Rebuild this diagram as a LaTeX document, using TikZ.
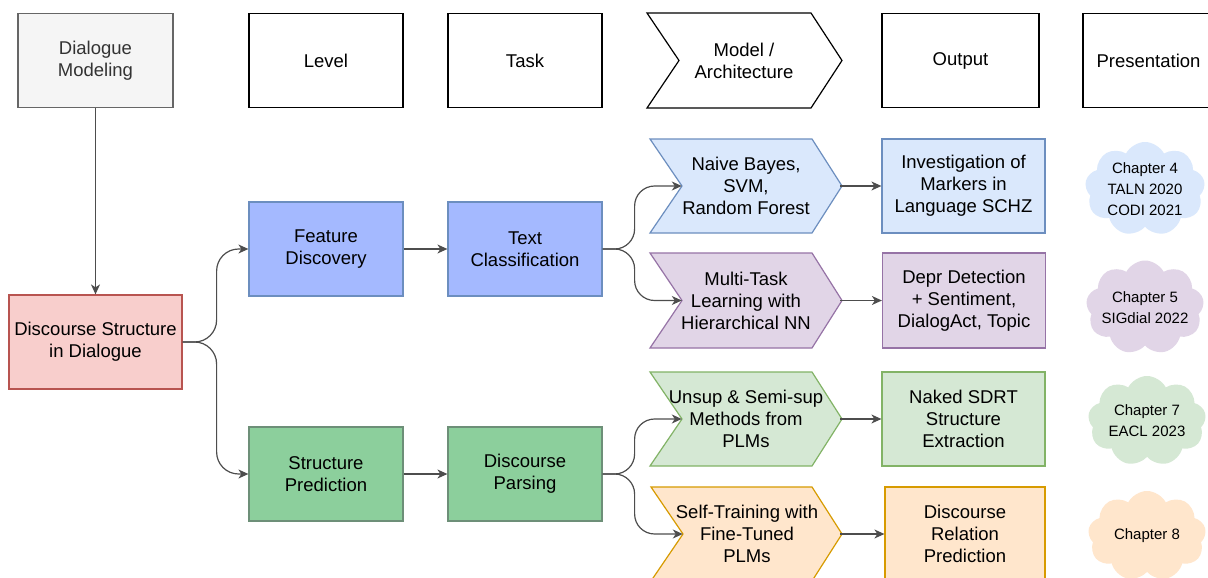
\documentclass[tikz,border=0pt]{standalone}
\usepackage{fontspec}
\setmainfont{Liberation Sans}
\usetikzlibrary{arrows.meta,shapes.symbols,calc}
\definecolor{hdrfill}{HTML}{F5F5F5}
\definecolor{hdrstroke}{HTML}{666666}
\definecolor{hdrtext}{HTML}{333333}
\definecolor{redfill}{HTML}{F8CECC}
\definecolor{redstroke}{HTML}{B85450}
\definecolor{bluefill}{HTML}{DAE8FC}
\definecolor{bluestroke}{HTML}{6C8EBF}
\definecolor{purfill}{HTML}{E1D5E7}
\definecolor{purstroke}{HTML}{9673A6}
\definecolor{grnfill}{HTML}{D5E8D4}
\definecolor{grnstroke}{HTML}{82B366}
\definecolor{orgfill}{HTML}{FFE6CC}
\definecolor{orgstroke}{HTML}{D79B00}
\definecolor{bluetwofill}{HTML}{A4B9FF}
\definecolor{grntwofill}{HTML}{8CCF9C}
\definecolor{grntwostroke}{HTML}{6D8F78}
\definecolor{edgecol}{HTML}{4D4D4D}
\newcommand\myfbig{\fontsize{18.5}{22}\selectfont}
\newcommand\myfsmall{\fontsize{15}{21}\selectfont}
\begin{document}
\begin{tikzpicture}[x=1pt,y=-1pt,
  boxnode/.style={rectangle, draw, line width=1.2pt, inner sep=0pt, align=center,
    minimum width=154pt, minimum height=94pt, font=\myfbig},
  outnode/.style={rectangle, draw, line width=1.2pt, inner sep=0pt, align=center,
    minimum width=163pt, minimum height=94pt, font=\myfbig},
  chevtext/.style={rectangle, draw=none, inner xsep=-30pt, inner ysep=0pt, align=center,
    minimum width=128pt, minimum height=94pt, font=\myfbig},
  chevshape/.style={line width=1.2pt},
  cloudnode/.style={cloud, cloud puffs=9, cloud puff arc=125, cloud ignores aspect,
    minimum width=118pt, minimum height=90pt, draw=none, inner sep=0pt},
  cloudtext/.style={align=center, inner sep=0pt, font=\myfsmall},
  conn/.style={draw=edgecol, line width=1.2pt, -{Stealth[length=10pt,width=9pt,inset=3pt]}},
  curvy/.style={conn, rounded corners=22pt}
]
\useasboundingbox (0,0) rectangle (1208,578);
\fill[white] (0,0) rectangle (1208,578);

% ---------- header row ----------
\node[boxnode, fill=hdrfill, draw=hdrstroke, text=hdrtext, minimum width=155pt] (dm) at (95.5,60.5) {Dialogue\\Modeling};
\node[boxnode, fill=white] (lv) at (326,60.5) {Level};
\node[boxnode, fill=white] (tk) at (525,60.5) {Task};
\filldraw[chevshape, fill=white, draw=black] (647,13) -- (811,13) -- (842,60.5) -- (811,108) -- (647,108) -- (679,60.5) -- cycle;
\node[chevtext] (mh) at (744,60.5) {Model /\\Architecture};
\node[boxnode, fill=white, minimum width=157pt] (oh) at (960.5,60.5) {Output};
\node[boxnode, fill=white, minimum width=131pt] (ph) at (1148.5,60.5) {Presentation};

% ---------- left part ----------
\node[boxnode, fill=redfill, draw=redstroke, minimum width=173pt] (ds) at (95.5,342) {Discourse Structure\\in Dialogue};
\node[boxnode, fill=bluetwofill, draw=bluestroke] (fd) at (326,249) {Feature\\Discovery};
\node[boxnode, fill=bluetwofill, draw=bluestroke] (tc) at (525,249) {Text\\Classification};
\node[boxnode, fill=grntwofill, draw=grntwostroke] (sp) at (326,474) {Structure\\Prediction};
\node[boxnode, fill=grntwofill, draw=grntwostroke] (dp) at (525,474) {Discourse\\Parsing};

% ---------- chevrons ----------
\filldraw[chevshape, fill=bluefill, draw=bluestroke] (650,139) -- (812,139) -- (842,186) -- (812,233) -- (650,233) -- (682,186) -- cycle;
\node[chevtext] (m1) at (746,186) {Naive Bayes,\\SVM,\\Random Forest};
\filldraw[chevshape, fill=purfill, draw=purstroke] (650,253) -- (812,253) -- (842,300.5) -- (812,348) -- (650,348) -- (682,300.5) -- cycle;
\node[chevtext] (m2) at (746,300.5) {Multi-Task\\Learning with\\Hierarchical NN};
\filldraw[chevshape, fill=grnfill, draw=grnstroke] (650,372) -- (812,372) -- (842,419) -- (812,466) -- (650,466) -- (682,419) -- cycle;
\node[chevtext] (m3) at (746,419) {Unsup \& Semi-sup\\Methods from\\PLMs};
\filldraw[chevshape, fill=orgfill, draw=orgstroke] (651,487) -- (812,487) -- (842,534) -- (812,581) -- (651,581) -- (683,534) -- cycle;
\node[chevtext] (m4) at (747,534) {Self-Training with\\Fine-Tuned\\PLMs};

% ---------- outputs ----------
\node[outnode, fill=bluefill, draw=bluestroke] (o1) at (963.5,186) {Investigation of\\Markers in\\Language SCHZ};
\node[outnode, fill=purfill, draw=purstroke, minimum height=95pt] (o2) at (964,300.5) {Depr Detection\\+ Sentiment,\\DialogAct, Topic};
\node[outnode, fill=grnfill, draw=grnstroke] (o3) at (963.5,419) {Naked SDRT\\Structure\\Extraction};
\node[outnode, fill=orgfill, draw=orgstroke, minimum width=160pt] (o4) at (965,534) {Discourse\\Relation\\Prediction};

% ---------- clouds ----------
\node[cloudnode, fill=bluefill, minimum width=120pt, minimum height=94pt] (c1) at (1145,189) {};
\node[cloudtext] (t1) at (c1) {Chapter 4\\TALN 2020\\CODI 2021};
\node[cloudnode, fill=purfill, minimum height=94pt] (c2) at (1145,307.5) {};
\node[cloudtext] (t2) at (c2) {Chapter 5\\SIGdial 2022};
\node[cloudnode, fill=grnfill] (c3) at (1147,421) {};
\node[cloudtext] (t3) at (c3) {Chapter 7\\EACL 2023};
\node[cloudnode, fill=orgfill] (c4) at (1147,536) {};
\node[cloudtext] (t4) at (c4) {Chapter 8};

% ---------- connectors ----------
\draw[conn] (dm.south) -- (ds.north);
\draw[curvy] (ds.east) -- ++(34,0) |- (fd.west);
\draw[curvy] (ds.east) -- ++(34,0) |- (sp.west);
\draw[conn] (fd.east) -- (tc.west);
\draw[conn] (sp.east) -- (dp.west);
\draw[curvy, rounded corners=20pt] (tc.east) -- ++(32,0) |- (m1.west);
\draw[curvy, rounded corners=20pt] (tc.east) -- ++(32,0) |- (m2.west);
\draw[curvy, rounded corners=20pt] (dp.east) -- ++(32,0) |- (m3.west);
\draw[curvy, rounded corners=20pt] (dp.east) -- ++(32,0) |- (m4.west);
\draw[conn] ([xshift=30pt]m1.east) -- (o1.west);
\draw[conn] ([xshift=30pt]m2.east) -- (o2.west);
\draw[conn] ([xshift=30pt]m3.east) -- (o3.west);
\draw[conn] ([xshift=29pt]m4.east) -- (o4.west);
\end{tikzpicture}
\end{document}
